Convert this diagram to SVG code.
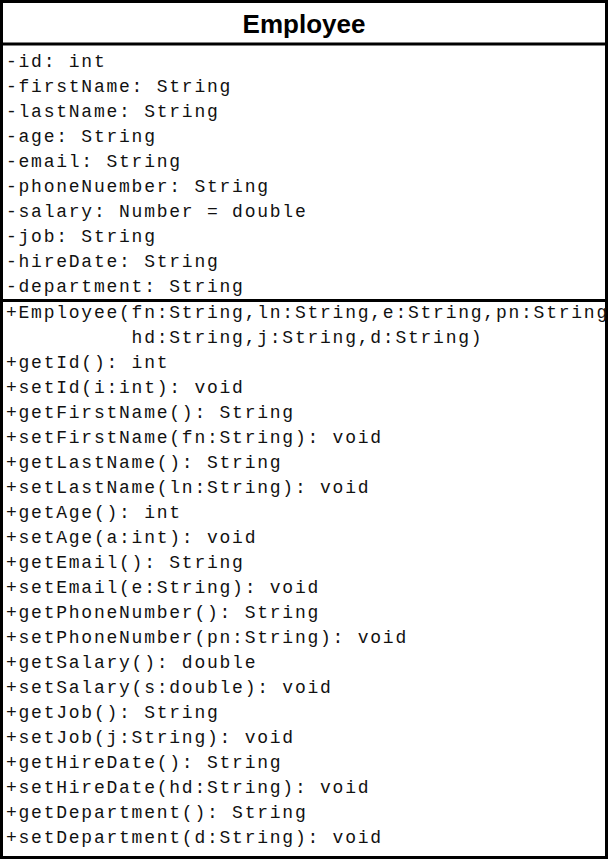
<svg xmlns="http://www.w3.org/2000/svg" width="608" height="859" viewBox="0 0 608 859">
<style>
.box{fill:#fff;stroke:#000;stroke-width:3}
.sep{stroke:#000;stroke-width:3}
.title{font-family:"Liberation Sans",Arial,sans-serif;font-weight:bold;font-size:26px;fill:#000}
.m{font-family:"Liberation Mono","Courier New",monospace;font-size:18px;letter-spacing:1.76px;fill:#111}
</style>
<rect width="608" height="859" fill="#fff"/>
<g id="Employee">
<rect class="box" x="1.5" y="1.5" width="605" height="856"/>
<line class="sep" x1="0" y1="44" x2="608" y2="44"/>
<line class="sep" x1="0" y1="300.5" x2="608" y2="300.5"/>
<text class="title" x="304" y="32.5" text-anchor="middle">Employee</text>
<g class="m">
<text x="6" y="67">-id: int</text>
<text x="6" y="92">-firstName: String</text>
<text x="6" y="117">-lastName: String</text>
<text x="6" y="142">-age: String</text>
<text x="6" y="167">-email: String</text>
<text x="6" y="192">-phoneNuember: String</text>
<text x="6" y="217">-salary: Number = double</text>
<text x="6" y="242">-job: String</text>
<text x="6" y="267">-hireDate: String</text>
<text x="6" y="292">-department: String</text>
<text x="6" y="317.5">+Employee(fn:String,ln:String,e:String,pn:String</text>
<text x="131.6" y="342.5">hd:String,j:String,d:String)</text>
<text x="6" y="367.5">+getId(): int</text>
<text x="6" y="392.5">+setId(i:int): void</text>
<text x="6" y="417.5">+getFirstName(): String</text>
<text x="6" y="442.5">+setFirstName(fn:String): void</text>
<text x="6" y="467.5">+getLastName(): String</text>
<text x="6" y="492.5">+setLastName(ln:String): void</text>
<text x="6" y="517.5">+getAge(): int</text>
<text x="6" y="542.5">+setAge(a:int): void</text>
<text x="6" y="567.5">+getEmail(): String</text>
<text x="6" y="592.5">+setEmail(e:String): void</text>
<text x="6" y="617.5">+getPhoneNumber(): String</text>
<text x="6" y="642.5">+setPhoneNumber(pn:String): void</text>
<text x="6" y="667.5">+getSalary(): double</text>
<text x="6" y="692.5">+setSalary(s:double): void</text>
<text x="6" y="717.5">+getJob(): String</text>
<text x="6" y="742.5">+setJob(j:String): void</text>
<text x="6" y="767.5">+getHireDate(): String</text>
<text x="6" y="792.5">+setHireDate(hd:String): void</text>
<text x="6" y="817.5">+getDepartment(): String</text>
<text x="6" y="842.5">+setDepartment(d:String): void</text>
</g>
</g>
</svg>
